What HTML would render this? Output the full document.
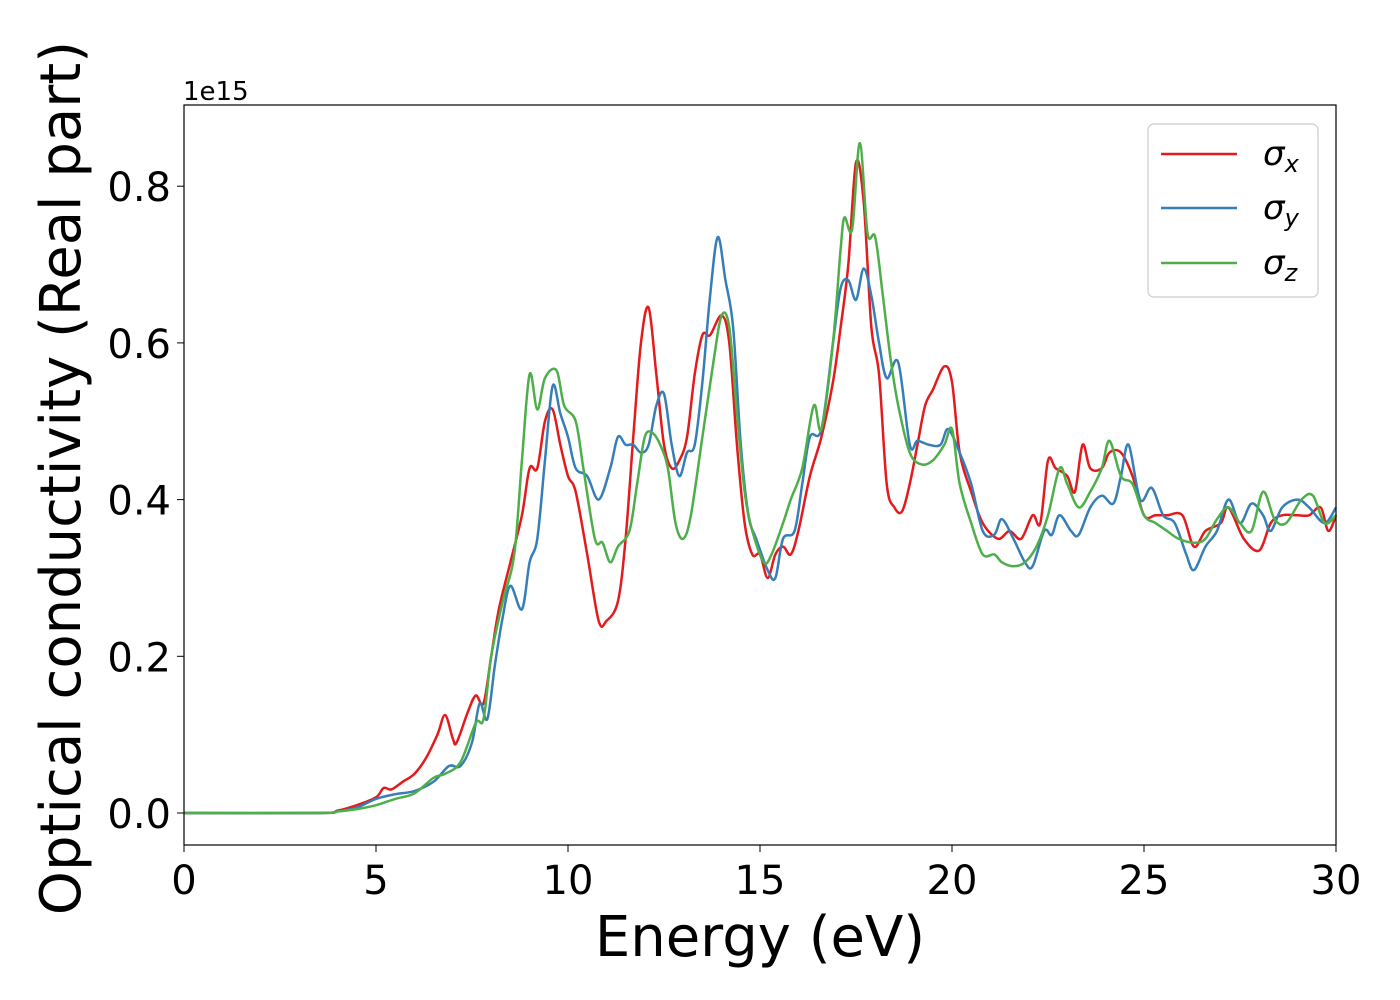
<!DOCTYPE html>
<html><head><meta charset="utf-8"><style>
body{margin:0;background:#fff}
svg{display:block;font-family:"DejaVu Sans","Liberation Sans",sans-serif}
</style></head><body>
<svg id="chart" width="1400" height="1000">
<rect x="0" y="0" width="1400" height="1000" fill="#fff"/>
<g id="ticks"></g>
<g id="series"></g>
<rect x="184" y="105" width="1152" height="740" fill="none" stroke="#000" stroke-width="1.2"/>
<text x="183" y="100" font-size="26">1e15</text>
<text x="760" y="956" font-size="56" text-anchor="middle">Energy (eV)</text>
<text transform="translate(80,478) rotate(-90)" font-size="56" text-anchor="middle">Optical conductivity (Real part)</text>
<g>
<rect x="1148" y="124" width="170" height="173" rx="6" fill="#fff" fill-opacity="0.8" stroke="#ccc" stroke-width="1.2"/>
<g><line x1="1161" y1="154" x2="1237" y2="154" stroke="#e41a1c" stroke-width="2.5"/><text x="1263" y="165" font-size="34" font-style="italic">σ<tspan font-size="24" dy="7">x</tspan></text></g>
<g><line x1="1161" y1="208" x2="1237" y2="208" stroke="#377eb8" stroke-width="2.5"/><text x="1263" y="219" font-size="34" font-style="italic">σ<tspan font-size="24" dy="7">y</tspan></text></g>
<g><line x1="1161" y1="263" x2="1237" y2="263" stroke="#4daf4a" stroke-width="2.5"/><text x="1263" y="274" font-size="34" font-style="italic">σ<tspan font-size="24" dy="7">z</tspan></text></g>
</g>
</svg>
<script>
const xTicks=[0,5,10,15,20,25,30];
const yTicks=[0,0.2,0.4,0.6,0.8];
const yTickLabels=["0.0","0.2","0.4","0.6","0.8"];
const sxE=[0,3.5,4,4.5,5,5.2,5.4,5.7,6,6.3,6.6,6.8,7,7.1,7.4,7.6,7.8,8,8.2,8.5,8.8,9,9.2,9.4,9.6,9.8,10,10.2,10.5,10.8,11,11.3,11.5,11.7,11.9,12.1,12.3,12.5,12.7,12.9,13.1,13.3,13.5,13.7,14,14.2,14.4,14.6,14.8,15,15.2,15.4,15.6,15.8,16,16.3,16.6,16.9,17.1,17.3,17.5,17.7,17.9,18.1,18.3,18.5,18.7,18.9,19.1,19.3,19.5,19.8,20,20.2,20.5,20.8,21.2,21.5,21.8,22.1,22.3,22.5,22.7,23,23.2,23.4,23.6,23.9,24.1,24.4,24.7,25,25.3,25.6,26,26.3,26.6,27,27.2,27.6,28,28.3,28.6,29,29.3,29.6,29.8,30];
const sxV=[0,0,0.003,0.01,0.02,0.032,0.03,0.04,0.05,0.07,0.1,0.125,0.095,0.09,0.13,0.15,0.14,0.2,0.26,0.32,0.38,0.44,0.44,0.5,0.515,0.47,0.43,0.41,0.33,0.245,0.245,0.27,0.35,0.48,0.6,0.645,0.56,0.47,0.44,0.45,0.48,0.56,0.61,0.61,0.635,0.6,0.47,0.37,0.33,0.33,0.3,0.33,0.34,0.33,0.36,0.43,0.48,0.55,0.62,0.7,0.83,0.78,0.62,0.56,0.42,0.39,0.385,0.42,0.47,0.52,0.54,0.57,0.55,0.46,0.41,0.37,0.35,0.36,0.35,0.38,0.37,0.45,0.44,0.43,0.41,0.47,0.44,0.44,0.46,0.46,0.43,0.38,0.38,0.38,0.38,0.34,0.36,0.37,0.39,0.35,0.335,0.37,0.38,0.38,0.38,0.39,0.36,0.38];
const syE=[0,3.5,4,4.5,5,5.5,6,6.5,6.9,7.2,7.5,7.7,7.9,8.1,8.3,8.5,8.8,9,9.2,9.4,9.6,9.8,10,10.2,10.5,10.8,11.1,11.3,11.5,11.7,11.9,12.1,12.3,12.5,12.7,12.9,13.1,13.3,13.5,13.7,13.9,14.1,14.3,14.5,14.7,14.9,15.2,15.4,15.6,15.9,16.1,16.3,16.6,16.9,17.1,17.3,17.5,17.7,17.9,18.1,18.3,18.6,18.9,19.1,19.4,19.7,19.9,20.2,20.5,20.8,21.1,21.3,21.6,21.9,22.1,22.4,22.6,22.8,23.1,23.3,23.6,23.9,24.2,24.4,24.6,24.9,25.2,25.5,25.8,26.1,26.3,26.6,26.9,27.2,27.5,27.8,28.1,28.3,28.6,29,29.3,29.7,30];
const syV=[0,0,0.002,0.007,0.018,0.024,0.028,0.04,0.06,0.06,0.09,0.14,0.12,0.19,0.25,0.29,0.26,0.32,0.35,0.45,0.545,0.51,0.48,0.44,0.43,0.4,0.44,0.48,0.47,0.47,0.46,0.47,0.52,0.535,0.47,0.43,0.46,0.47,0.55,0.66,0.735,0.68,0.62,0.47,0.38,0.35,0.31,0.3,0.35,0.36,0.42,0.48,0.49,0.6,0.67,0.68,0.655,0.695,0.66,0.6,0.555,0.575,0.47,0.475,0.47,0.47,0.49,0.46,0.42,0.36,0.355,0.375,0.35,0.32,0.315,0.36,0.355,0.38,0.36,0.355,0.39,0.405,0.395,0.43,0.47,0.4,0.415,0.38,0.37,0.33,0.31,0.34,0.36,0.4,0.37,0.395,0.38,0.36,0.39,0.4,0.39,0.37,0.39];
const szE=[0,3.5,4,4.5,5,5.5,6,6.5,6.8,7.2,7.6,7.8,8,8.3,8.6,8.8,9,9.2,9.4,9.7,9.9,10.2,10.4,10.7,10.9,11.1,11.3,11.6,11.8,12,12.2,12.4,12.6,12.8,13,13.2,13.5,13.8,14,14.2,14.4,14.6,14.8,15.1,15.3,15.6,15.8,16.1,16.4,16.6,16.9,17.1,17.2,17.4,17.6,17.8,18,18.2,18.4,18.6,18.9,19.2,19.5,19.8,20,20.2,20.5,20.8,21.1,21.3,21.6,21.9,22.2,22.5,22.8,23,23.3,23.6,23.9,24.1,24.4,24.7,25,25.3,25.6,25.9,26.3,26.6,26.9,27.2,27.5,27.8,28.1,28.4,28.7,29.1,29.4,29.7,30];
const szV=[0,0,0.002,0.005,0.01,0.018,0.025,0.045,0.05,0.065,0.115,0.12,0.2,0.27,0.33,0.45,0.56,0.515,0.555,0.565,0.52,0.5,0.44,0.35,0.345,0.32,0.34,0.36,0.42,0.48,0.485,0.47,0.44,0.37,0.35,0.38,0.48,0.58,0.635,0.62,0.51,0.41,0.36,0.32,0.33,0.37,0.4,0.44,0.52,0.49,0.6,0.72,0.76,0.745,0.855,0.74,0.735,0.66,0.58,0.52,0.46,0.445,0.45,0.47,0.49,0.42,0.37,0.33,0.33,0.32,0.315,0.32,0.34,0.38,0.44,0.42,0.39,0.41,0.44,0.475,0.43,0.42,0.38,0.37,0.36,0.35,0.345,0.35,0.375,0.39,0.37,0.36,0.41,0.375,0.37,0.4,0.405,0.37,0.38];
const X=v=>184+v*(1152/30);
const Y=v=>813-v*783.5;
const NS="http://www.w3.org/2000/svg";
const tg=document.getElementById('ticks');
xTicks.forEach(t=>{
 const l=document.createElementNS(NS,'line');
 l.setAttribute('x1',X(t));l.setAttribute('x2',X(t));l.setAttribute('y1',845);l.setAttribute('y2',852);l.setAttribute('stroke','#000');
 
 
 tg.appendChild(l);
 const s=document.createElementNS(NS,'text');
 s.setAttribute('x',X(t));s.setAttribute('y',894);s.setAttribute('font-size','40');s.setAttribute('text-anchor','middle');
 s.textContent=t;
 
 
 tg.appendChild(s);
});
yTicks.forEach((t,i)=>{
 const l=document.createElementNS(NS,'line');
 l.setAttribute('x1',177);l.setAttribute('x2',184);l.setAttribute('y1',Y(t));l.setAttribute('y2',Y(t));l.setAttribute('stroke','#000');
 
 
 tg.appendChild(l);
 const s=document.createElementNS(NS,'text');
 s.setAttribute('x',171);s.setAttribute('y',Y(t)+15);s.setAttribute('font-size','40');s.setAttribute('text-anchor','end');
 s.textContent=yTickLabels[i];
 
 
 tg.appendChild(s);
});
function pathD(xs,vs){
 const p=xs.map((x,i)=>[X(x),Y(vs[i])]);
 let d='M'+p[0][0]+','+p[0][1];
 for(let i=0;i<p.length-1;i++){
  const p0=p[Math.max(0,i-1)],p1=p[i],p2=p[i+1],p3=p[Math.min(p.length-1,i+2)];
  const c1=[p1[0]+(p2[0]-p0[0])/6,p1[1]+(p2[1]-p0[1])/6];
  const c2=[p2[0]-(p3[0]-p1[0])/6,p2[1]-(p3[1]-p1[1])/6];
  d+=`C${c1[0]},${c1[1]} ${c2[0]},${c2[1]} ${p2[0]},${p2[1]}`;
 }
 return d;
}
const sg=document.getElementById('series');
[[sxE,sxV,'#e41a1c','sigma-x-line'],[syE,syV,'#377eb8','sigma-y-line'],[szE,szV,'#4daf4a','sigma-z-line']].forEach(s=>{
 const p=document.createElementNS(NS,'path');
 p.setAttribute('d',pathD(s[0],s[1]));p.setAttribute('fill','none');p.setAttribute('stroke',s[2]);p.setAttribute('stroke-width','2.5');
 
 
 sg.appendChild(p);
});
</script>
</body></html>
